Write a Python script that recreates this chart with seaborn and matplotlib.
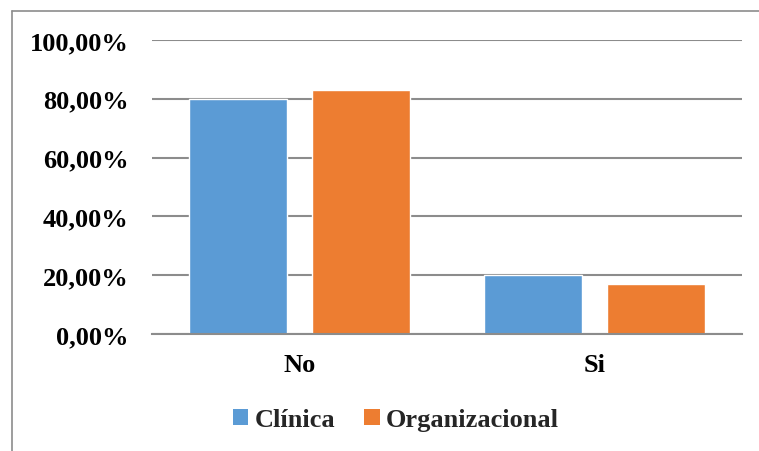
import matplotlib
matplotlib.use("Agg")
import matplotlib.pyplot as plt
from matplotlib.lines import Line2D
from matplotlib.patches import Patch
from matplotlib.ticker import FuncFormatter, FixedLocator
import seaborn as sns
import pandas as pd

# Data
respuestas = ["No", "Si"]
areas = ["Clínica", "Organizacional"]
clinica = [80.0, 20.0]
organizacional = [83.0, 17.0]
colores = ["#5B9BD5", "#ED7D31"]
ticks_y = [0, 20, 40, 60, 80, 100]

df = pd.DataFrame({
    "respuesta": respuestas * 2,
    "area": [areas[0]] * len(respuestas) + [areas[1]] * len(respuestas),
    "porcentaje": clinica + organizacional,
})

sns.set_theme(style="white")
plt.rcParams["font.family"] = ["Liberation Serif", "DejaVu Serif"]
plt.rcParams["font.weight"] = "bold"

fs = 19

fig = plt.figure(figsize=(7.59, 4.52), dpi=100)
ax = fig.add_axes([152 / 759, 1 - 335 / 452, 590 / 759, 294 / 452])

sns.barplot(data=df, x="respuesta", y="porcentaje", hue="area",
            hue_order=areas, palette=colores, width=0.834, gap=0.2,
            saturation=1, legend=False, ax=ax, zorder=3)

ax.set_xlim(-0.5, 1.5)
ax.set_ylim(0, 100)
ax.yaxis.set_major_locator(FixedLocator(ticks_y))
ax.yaxis.set_major_formatter(
    FuncFormatter(lambda v, p: f"{v:.2f}%".replace(".", ",")))
ax.grid(axis="y", color="#8c8c8c", linewidth=1.5, zorder=0)
ax.set_axisbelow(True)
for s in ["left", "right", "top"]:
    ax.spines[s].set_visible(False)
ax.spines["bottom"].set_color("#8c8c8c")
ax.spines["bottom"].set_linewidth(1.5)
ax.spines["bottom"].set_zorder(4)
ax.set_xlabel("")
ax.set_ylabel("")
ax.tick_params(axis="y", length=0, pad=17, labelsize=fs)
ax.tick_params(axis="x", length=0, pad=14, labelsize=fs)
for lab in ax.get_xticklabels() + ax.get_yticklabels():
    lab.set_fontweight("bold")
    lab.set_color("black")

handles = [Patch(facecolor=c, edgecolor="none", label=a)
           for a, c in zip(areas, colores)]
fig.legend(handles=handles, loc="center", bbox_to_anchor=(396 / 759, 1 - 421 / 452),
           ncol=2, frameon=False, prop={"family": "Liberation Serif", "weight": "bold", "size": fs},
           handlelength=0.58, handleheight=0.58, handletextpad=0.25, columnspacing=1.1,
           borderpad=0)

# Frame around the chart area
gray = "#8c8c8c"
fig.add_artist(Line2D([11.5 / 759, 11.5 / 759], [0, 1 - 11.5 / 452],
                      transform=fig.transFigure, color=gray, linewidth=1.2))
fig.add_artist(Line2D([11.5 / 759, 1], [1 - 11.5 / 452, 1 - 11.5 / 452],
                      transform=fig.transFigure, color=gray, linewidth=1.2))

fig.savefig("out.png", dpi=100, facecolor="white")
